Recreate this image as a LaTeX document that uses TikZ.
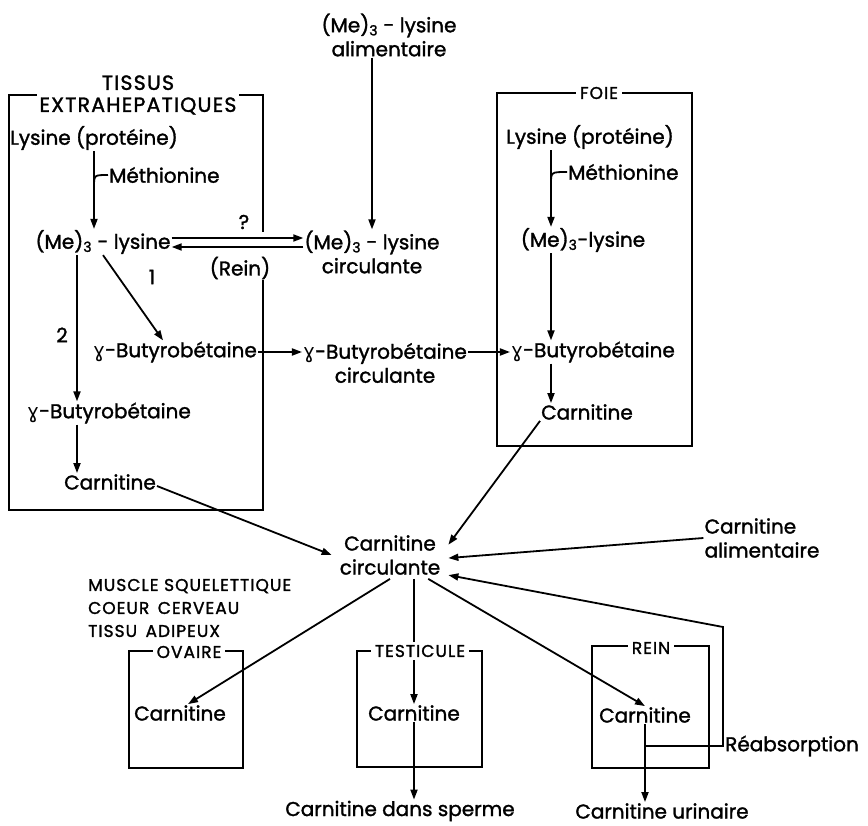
\documentclass[tikz,border=0pt]{standalone}
\usepackage{fontspec}
\setmainfont{Poppins}[FakeBold=1.5]
\newfontfamily\capsfont{Poppins}[LetterSpace=6, FakeBold=1.5]
\newfontfamily\gamfont{DejaVu Sans}
\usetikzlibrary{arrows.meta}
\newcommand{\gmm}{{\gamfont ɣ}}
\newcommand{\melys}{(Me)\textsubscript{3}}
\tikzset{
  lbl/.style={inner sep=1pt, font=\fontsize{20}{24}\selectfont, align=center},
  caps/.style={inner sep=1pt, font=\capsfont\fontsize{17}{23}\selectfont, align=left},
  ttl/.style={fill=white, inner xsep=4pt, inner ysep=3pt},
  flow/.style={line width=1.8pt, -{Triangle[length=10pt,width=7pt]}},
  wall/.style={line width=1.8pt},
}

\begin{document}
\begin{tikzpicture}[x=1pt,y=-1pt]
	%%%%% START %%%%%
	\useasboundingbox (0,0) rectangle (868,826);
	
	\coordinate (colA) at (94,0);
	\coordinate (colB) at (77,0);
	\coordinate (colF) at (551,0);
	\coordinate (rcorner) at (723,627);
	
	% tissus extrahepatiques
	\draw[wall] (263,232) -- (263,95) -- (9,95) -- (9,510) -- (263,510) -- (263,280);
	\node[caps, ttl, align=center, font=\capsfont\fontsize{20.5}{22}\selectfont, inner xsep=3pt, inner ysep=1pt] (tissus) at (138,95) {TISSUS\\EXTRAHEPATIQUES};
	\node[lbl] (lysA) at (94,138) {Lysine (protéine)};
	\node[lbl, anchor=west] (methA) at (108,175) {Méthionine};
	\node[lbl] (melysA) at (103,242) {\melys\ - lysine};
	\node[lbl] (gbA1) at (175,352) {\gmm-Butyrobétaine};
	\node[lbl] (gbA2) at (109,413) {\gmm-Butyrobétaine};
	\node[lbl] (carnA) at (110,482) {Carnitine};
	\node[lbl] (nb1) at (152,277) {1};
	\node[lbl] (nb2) at (62,335) {2};
	
	\draw[flow] (lysA.south -| colA) -- (melysA.north -| colA);
	\draw[wall] (methA.west) .. controls (methA.west -| colA) .. ([yshift=-12pt]methA.west -| colA);
	\draw[flow] (melysA.south) -- ([xshift=-12pt]gbA1.north);
	\draw[flow] (melysA.south -| colB) -- (gbA2.north -| colB);
	\draw[flow] (gbA2.south -| colB) -- (carnA.north -| colB);
	
	% lysine circulante
	\node[lbl] (melysT) at (389,35) {\melys\ - lysine\\alimentaire};
	\node[lbl] (melysC) at (372,252) {\melys\ - lysine\\circulante};
	\node[lbl] (quest) at (244,222) {?};
	\node[lbl] (rein1) at (240,268) {(Rein)};
	\draw[flow] (melysT.south -| melysC.north) -- (melysC.north);
	\draw[flow] ([yshift=4pt]melysA.east) -- ([yshift=4pt]melysA.east -| melysC.west);
	\draw[flow] ([yshift=-5pt]melysA.east -| melysC.west) -- ([yshift=-5pt]melysA.east);
	
	\node[lbl] (gbC) at (385,363) {\gmm-Butyrobétaine\\circulante};
	
	% foie
	\draw[wall] (497,93) rectangle (692,446);
	\node[caps, ttl] (foie) at (599,93) {FOIE};
	\node[lbl] (lysF) at (590,137) {Lysine (protéine)};
	\node[lbl, anchor=west] (methF) at (567,172) {Méthionine};
	\node[lbl] (melysF) at (583,240) {\melys-lysine};
	\node[lbl] (gbF) at (593,352) {\gmm-Butyrobétaine};
	\node[lbl] (carnF) at (587,412) {Carnitine};
	
	\draw[flow] (lysF.south -| colF) -- (melysF.north -| colF);
	\draw[wall] (methF.west) .. controls (methF.west -| colF) .. ([yshift=-12pt]methF.west -| colF);
	\draw[flow] (melysF.south -| colF) -- (gbF.north -| colF);
	\draw[flow] (gbF.south -| colF) -- (carnF.north -| colF);
	
	\draw[flow] (gbA1.east) -- (gbA1.east -| gbC.west);
	\draw[flow] (gbA1.east -| gbC.east) -- (gbF.west);
	
	% carnitine circulante
	\node[lbl, inner xsep=8pt, inner ysep=4pt] (circ) at (390,555) {Carnitine\\circulante};
	\node[lbl, align=left] (alim) at (762,538) {Carnitine\\alimentaire};
	\draw[flow] ([yshift=-4pt]carnA.east) -- (circ.west);
	\draw[flow] (carnF.south west) -- (circ.10);
	\draw[flow] (alim.west) -- (circ.357);
	
	% organes
	\node[caps, anchor=west] (organs) at (87,608) {MUSCLE SQUELETTIQUE\\COEUR\enspace CERVEAU\\TISSU\enspace ADIPEUX};
	\draw[wall] (129,651) rectangle (243,768);
	\draw[wall] (357,651) rectangle (482,767);
	\draw[wall] (592,646) rectangle (709,768);
	\node[lbl] (carnO) at (180,713) {Carnitine};
	\node[lbl] (carnT) at (414,713) {Carnitine};
	\node[lbl] (carnR) at (645,715) {Carnitine};
	\node[lbl] (sperm) at (400,811) {Carnitine dans sperme};
	\node[lbl] (urin) at (662,811) {Carnitine urinaire};
	\node[lbl, anchor=west] (reab) at (724,746) {Réabsorption};
	
	\draw[flow] (circ.south) -- ([xshift=8pt]carnO.north);
	\draw[flow] (circ.south -| carnT.north) -- (carnT.north);
	\draw[flow] (circ.328) -- (carnR.north);
	\draw[flow] (carnT.south) -- (carnT.south |- sperm.north);
	\draw[flow] (carnR.south) -- (carnR.south |- urin.north);
	\draw[flow] (carnR.south |- reab.west) -- (reab.west -| rcorner) -- (rcorner) -- (circ.341);
	
	\node[caps, ttl] (ovaire) at (189,652) {OVAIRE};
	\node[caps, ttl] (testic) at (420,651) {TESTICULE};
	\node[caps, ttl] (rein) at (651,648) {REIN};
	%%%%% END %%%%%
\end{tikzpicture}
\end{document}
